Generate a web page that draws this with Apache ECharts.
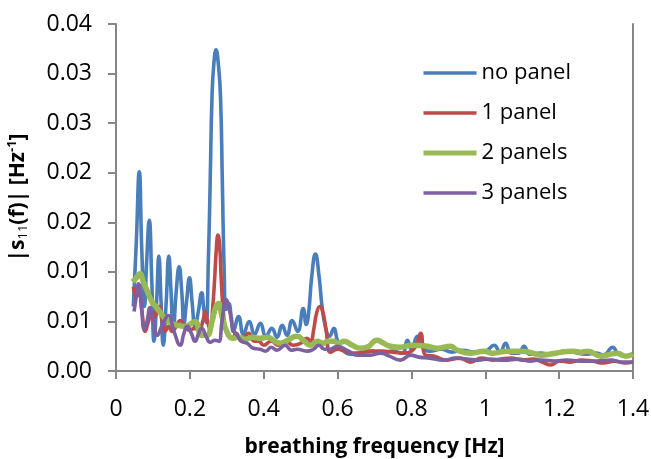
<!DOCTYPE html>
<html>
<head>
<meta charset="utf-8">
<script src="https://cdn.jsdelivr.net/npm/echarts@6/dist/echarts.min.js"></script>
<style>html,body{margin:0;padding:0;background:#fff;}#c{width:651px;height:459px;}</style>
</head>
<body>
<div id="c"></div>
<script>
// ---- data ----
var seriesNames = ['no panel', '1 panel', '2 panels', '3 panels'];
var yTickLabels = ['0.00', '0.01', '0.01', '0.02', '0.02', '0.03', '0.03', '0.04'];
var xTickLabels = ['0', '0.2', '0.4', '0.6', '0.8', '1', '1.2', '1.4'];

var noPanelF = [0.047,0.055,0.063,0.070,0.077,0.083,0.090,0.097,0.103,0.110,0.116,0.122,0.128,0.136,0.143,0.149,0.155,0.163,0.171,0.178,0.184,0.191,0.199,0.206,0.214,0.223,0.232,0.238,0.244,0.250,0.255,0.260,0.265,0.271,0.277,0.283,0.288,0.293,0.298,0.305,0.312,0.318,0.332,0.345,0.361,0.375,0.391,0.406,0.422,0.436,0.450,0.463,0.477,0.492,0.507,0.515,0.522,0.530,0.540,0.550,0.558,0.567,0.578,0.590,0.600,0.612,0.635,0.66,0.69,0.72,0.75,0.775,0.789,0.80,0.816,0.83,0.85,0.88,0.91,0.94,0.97,1.00,1.024,1.04,1.055,1.07,1.09,1.105,1.12,1.15,1.18,1.214,1.24,1.27,1.30,1.32,1.345,1.36,1.38,1.40];
var noPanelV = [0.0065,0.013,0.0201,0.012,0.0065,0.011,0.0152,0.009,0.0030,0.007,0.0116,0.007,0.0026,0.007,0.0116,0.008,0.0040,0.008,0.0105,0.008,0.0048,0.007,0.0094,0.007,0.0045,0.006,0.0079,0.0062,0.0049,0.011,0.019,0.0277,0.031,0.0324,0.031,0.0277,0.019,0.010,0.0062,0.0068,0.0055,0.0040,0.0055,0.0037,0.0050,0.0037,0.0048,0.0035,0.0043,0.0034,0.0046,0.0036,0.0051,0.0040,0.0063,0.0047,0.0060,0.0095,0.0118,0.0095,0.0065,0.0045,0.0035,0.0043,0.0030,0.0022,0.0017,0.0018,0.0020,0.0018,0.0020,0.0018,0.0031,0.0022,0.0035,0.0024,0.0020,0.0022,0.0019,0.0021,0.0019,0.0020,0.0026,0.0019,0.0028,0.0018,0.0018,0.0025,0.0017,0.0018,0.0017,0.0020,0.0019,0.0017,0.0018,0.0016,0.0024,0.0017,0.0015,0.0017];

var onePanelF = [0.047,0.055,0.062,0.070,0.079,0.088,0.098,0.105,0.117,0.125,0.133,0.143,0.152,0.163,0.174,0.187,0.200,0.212,0.225,0.235,0.241,0.248,0.255,0.262,0.267,0.272,0.276,0.281,0.285,0.291,0.298,0.305,0.315,0.325,0.340,0.359,0.375,0.386,0.40,0.42,0.44,0.46,0.48,0.50,0.517,0.527,0.535,0.543,0.552,0.561,0.569,0.581,0.60,0.62,0.65,0.689,0.72,0.75,0.78,0.80,0.813,0.825,0.838,0.86,0.897,0.93,0.96,0.99,1.02,1.042,1.07,1.10,1.13,1.16,1.177,1.20,1.23,1.26,1.29,1.32,1.35,1.38,1.40];
var onePanelV = [0.0085,0.0075,0.0080,0.0060,0.0040,0.0050,0.0060,0.0055,0.0065,0.0050,0.0040,0.0045,0.0040,0.0045,0.0051,0.0044,0.0041,0.0043,0.0042,0.0050,0.0060,0.0050,0.0041,0.0065,0.0092,0.0125,0.0137,0.0125,0.0092,0.0058,0.0040,0.0035,0.0033,0.0038,0.0030,0.0038,0.0030,0.0030,0.0026,0.0030,0.0026,0.0030,0.0026,0.0028,0.0033,0.0030,0.0041,0.0058,0.0065,0.0058,0.0041,0.0019,0.0022,0.0020,0.0018,0.0020,0.0020,0.0019,0.0018,0.0020,0.0026,0.0038,0.0016,0.0015,0.0011,0.0013,0.0009,0.0013,0.0011,0.0012,0.0013,0.0011,0.0012,0.0008,0.0006,0.0010,0.0009,0.0011,0.0010,0.0008,0.0010,0.0008,0.0009];

var twoPanelsF = [0.045,0.055,0.065,0.074,0.083,0.097,0.108,0.118,0.133,0.151,0.169,0.187,0.200,0.214,0.232,0.246,0.260,0.270,0.278,0.287,0.300,0.315,0.33,0.35,0.37,0.39,0.41,0.43,0.445,0.465,0.49,0.51,0.526,0.545,0.562,0.572,0.59,0.603,0.617,0.64,0.662,0.68,0.707,0.72,0.743,0.77,0.80,0.843,0.87,0.906,0.924,0.96,0.997,1.02,1.06,1.096,1.12,1.15,1.19,1.236,1.26,1.277,1.313,1.34,1.358,1.38,1.40];
var twoPanelsV = [0.0090,0.0094,0.0098,0.0090,0.0082,0.0070,0.0065,0.0060,0.0053,0.0048,0.0046,0.0045,0.0047,0.0050,0.0036,0.0036,0.0050,0.0064,0.0068,0.0055,0.0040,0.0033,0.0034,0.0032,0.0034,0.0033,0.0034,0.0030,0.0028,0.0031,0.0035,0.0030,0.0026,0.0030,0.0028,0.0030,0.0030,0.0028,0.0030,0.0026,0.0023,0.0024,0.0031,0.0029,0.0025,0.0024,0.0026,0.0025,0.0023,0.0025,0.0021,0.0018,0.0020,0.0018,0.0020,0.0020,0.0019,0.0016,0.0018,0.0020,0.0019,0.0020,0.0015,0.0017,0.0018,0.0015,0.0017];

var threePanelsF = [0.049,0.055,0.061,0.068,0.077,0.084,0.092,0.100,0.112,0.125,0.142,0.157,0.174,0.184,0.193,0.204,0.214,0.224,0.232,0.244,0.255,0.268,0.278,0.287,0.298,0.308,0.318,0.328,0.34,0.355,0.372,0.39,0.405,0.42,0.436,0.458,0.475,0.49,0.517,0.535,0.549,0.565,0.58,0.599,0.608,0.63,0.653,0.689,0.716,0.74,0.77,0.798,0.82,0.85,0.888,0.92,0.95,0.98,1.01,1.05,1.09,1.12,1.15,1.19,1.22,1.26,1.30,1.34,1.37,1.40];
var threePanelsV = [0.0060,0.0075,0.0088,0.0070,0.0042,0.0050,0.0064,0.0052,0.0036,0.0046,0.0056,0.0040,0.0026,0.0038,0.0045,0.0038,0.0030,0.0038,0.0043,0.0035,0.0029,0.0031,0.0030,0.0050,0.0072,0.0060,0.0041,0.0036,0.0030,0.0028,0.0023,0.0022,0.0020,0.0024,0.0021,0.0026,0.0021,0.0022,0.0020,0.0022,0.0026,0.0022,0.0022,0.0025,0.0024,0.0020,0.0016,0.0016,0.0018,0.0015,0.0011,0.0016,0.0014,0.0013,0.0011,0.0013,0.0012,0.0011,0.0012,0.0011,0.0012,0.0010,0.0011,0.0010,0.0011,0.0010,0.0010,0.0011,0.0009,0.0009];

var colors = ['#4A7EBB', '#BE4B48', '#98B954', '#7D60A0'];
var widths = [3.6, 3.6, 5.5, 3.6];

function pairs(f, v) { return f.map(function (x, i) { return [x, v[i]]; }); }
var allF = [noPanelF, onePanelF, twoPanelsF, threePanelsF];
var allV = [noPanelV, onePanelV, twoPanelsV, threePanelsV];

var FONT = 'Open Sans';
var axisGray = '#868686';

var chart = echarts.init(document.getElementById('c'), null, { renderer: 'canvas' });
chart.setOption({
  animation: false,
  color: colors,
  grid: { left: 116, right: 18, top: 24, bottom: 88, containLabel: false, outerBoundsMode: 'none' },
  legend: {
    orient: 'vertical',
    left: 421,
    top: 61,
    padding: 0,
    itemWidth: 53,
    itemHeight: 24,
    itemGap: 16,
    itemStyle: { opacity: 0 },
    textStyle: { fontFamily: FONT, fontSize: 22, color: '#000', lineHeight: 24 },
    data: seriesNames.map(function (n, i) {
      return { name: n, lineStyle: { width: i === 2 ? 5 : 3.5, color: colors[i] } };
    })
  },
  xAxis: {
    type: 'value', min: 0, max: 1.4, interval: 0.2,
    name: 'breathing frequency [Hz]', nameLocation: 'middle', nameGap: 66,
    nameTextStyle: { fontFamily: FONT, fontSize: 21, fontWeight: 'bold', color: '#000' },
    axisLine: { show: true, lineStyle: { color: axisGray, width: 2 } },
    axisTick: { show: true, inside: false, length: 8, lineStyle: { color: axisGray, width: 2 } },
    axisLabel: { fontFamily: FONT, fontSize: 23, color: '#000', margin: 27,
      formatter: function (v) { return xTickLabels[Math.round(v / 0.2)]; } },
    splitLine: { show: false }
  },
  yAxis: [{
    type: 'value', min: 0, max: 0.035, interval: 0.005,
    name: '|s{sub|11}(f)| [Hz{sup|-1}]', nameLocation: 'middle', nameGap: 86, nameRotate: 90,
    nameTextStyle: { fontFamily: FONT, fontSize: 21, fontWeight: 'bold', color: '#000',
      rich: {
        sub: { fontFamily: FONT, fontSize: 13, fontWeight: 'normal', color: '#000', verticalAlign: 'bottom', lineHeight: 24 },
        sup: { fontFamily: FONT, fontSize: 13, fontWeight: 'bold', color: '#000', verticalAlign: 'top', lineHeight: 24 }
      } },
    axisLine: { show: true, lineStyle: { color: axisGray, width: 2 } },
    axisTick: { show: true, inside: false, length: 8, lineStyle: { color: axisGray, width: 2 } },
    axisLabel: { fontFamily: FONT, fontSize: 23, color: '#000', margin: 24,
      formatter: function (v) { return yTickLabels[Math.round(v / 0.005)]; } },
    splitLine: { show: false }
  }, {
    type: 'value', min: 0, max: 0.035, interval: 0.005, position: 'right',
    axisLine: { show: true, lineStyle: { color: axisGray, width: 2 } },
    axisTick: { show: false }, axisLabel: { show: false }, splitLine: { show: false }
  }],
  series: seriesNames.map(function (n, i) {
    return {
      name: n, type: 'line', smooth: 0.5, symbol: 'none',
      data: pairs(allF[i], allV[i]),
      lineStyle: { color: colors[i], width: widths[i] },
      itemStyle: { color: colors[i] },
      z: 2 + i
    };
  })
});
</script>
</body>
</html>
